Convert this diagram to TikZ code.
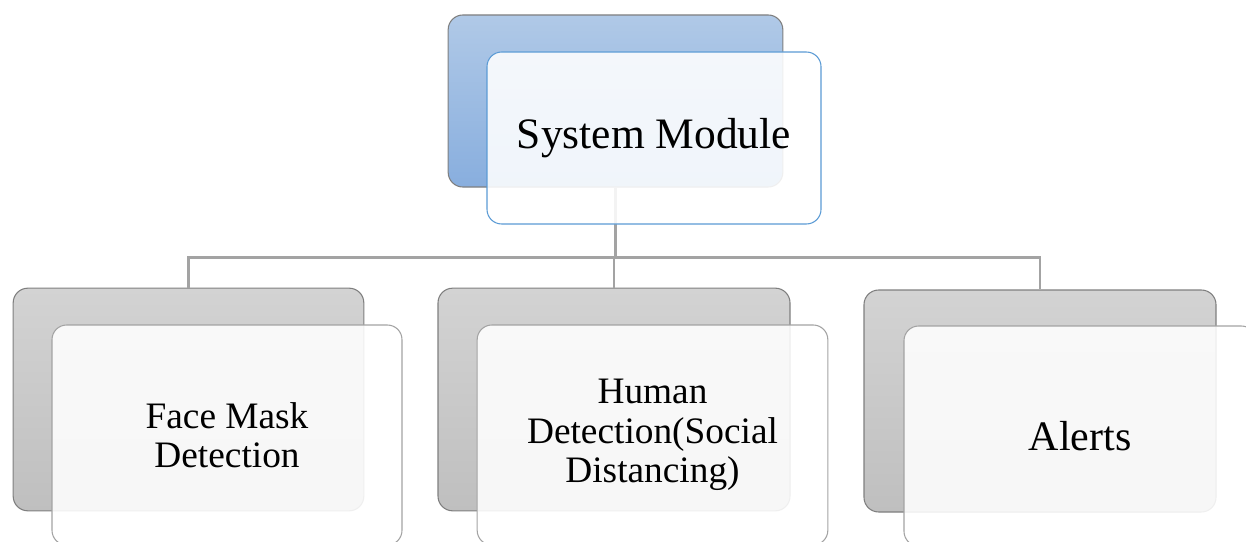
\documentclass[tikz,border=0pt]{standalone}
\usepackage{fontspec}
\setmainfont{Liberation Serif}
\usepackage{tikz}

\definecolor{backgray}{HTML}{7F7F7F}
\definecolor{linkgray}{HTML}{A3A3A3}
\definecolor{bluetop}{HTML}{B0C9E7}
\definecolor{bluebot}{HTML}{88AEDE}
\definecolor{blueline}{HTML}{5B9BD5}
\definecolor{graytop}{HTML}{D3D3D3}
\definecolor{graybot}{HTML}{BFBFBF}

\tikzset{
  backbox/.style={rectangle, rounded corners=11pt, draw=backgray, line width=0.8pt, inner sep=0pt},
  frontbox/.style={rectangle, rounded corners=11pt, line width=0.8pt, fill=white, fill opacity=0.88, text opacity=1, inner sep=0pt, align=center},
  link/.style={draw=linkgray, line width=1.6pt}
}

\begin{document}
\begin{tikzpicture}[x=0.75pt,y=-0.75pt]

    \useasboundingbox (0,0) rectangle (1246,542);

    % back boxes
    \node[backbox, top color=bluetop, bottom color=bluebot, minimum width=251pt, minimum height=129pt] (sysback) at (615.5,101) {};
    \node[backbox, top color=graytop, bottom color=graybot, minimum width=263pt, minimum height=167pt] (fmback) at (188.5,399.5) {};
    \node[backbox, top color=graytop, bottom color=graybot, minimum width=264pt, minimum height=167pt] (hdback) at (614,399.5) {};
    \node[backbox, top color=graytop, bottom color=graybot, minimum width=264pt, minimum height=166.5pt] (alback) at (1040,401) {};

    % links
    \draw[link] (sysback.south) -- ++(0,70) -| (fmback.north);
    \draw[link] (sysback.south) -- ++(0,70) -| (hdback.north);
    \draw[link] (sysback.south) -- ++(0,70) -| (alback.north);

    % front boxes
    \node[frontbox, draw=blueline, minimum width=250.5pt, minimum height=129pt, font=\fontsize{32.6}{36}\selectfont] (sys) at (654,138) {\raisebox{-4pt}{System Module}};
    \node[frontbox, draw=linkgray, minimum width=262.5pt, minimum height=165pt, font=\fontsize{28}{29}\selectfont] (fm) at (227,435) {Face Mask\\Detection};
    \node[frontbox, draw=linkgray, minimum width=263pt, minimum height=165pt, font=\fontsize{28}{29.6}\selectfont] (hd) at (652.5,435) {Human\\Detection(Social\\Distancing)};
    \node[frontbox, draw=linkgray, minimum width=264pt, minimum height=165pt, font=\fontsize{31.5}{34}\selectfont] (al) at (1080,436) {Alerts};

\end{tikzpicture}
\end{document}
